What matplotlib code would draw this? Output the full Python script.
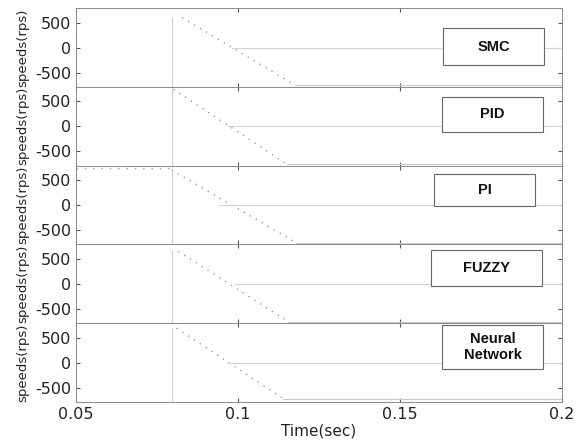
import matplotlib.pyplot as plt
from matplotlib.patches import Rectangle

# controllers shown in the five stacked panels
controllers = ["SMC", "PID", "PI", "FUZZY", "Neural\nNetwork"]

# speed ramp: start (t, rps) -> end (t, rps)
ramp_start_t = [0.0827, 0.0800, 0.0795, 0.0815, 0.0810]
ramp_start_v = [600, 740, 700, 650, 690]
ramp_end_t = [0.1176, 0.1150, 0.1180, 0.1155, 0.1140]
ramp_end_v = [-750, -750, -750, -750, -720]

# where the faint reference line at 0 rps starts
zero_start_t = [0.098, 0.097, 0.094, 0.099, 0.0965]

# step instant (vertical line) and PI pre-step speed
step_t = 0.0796
pi_pre_t = [0.05, 0.0795]
pi_pre_v = [750, 750]

x_ticks = [0.05, 0.1, 0.15, 0.2]
y_ticks = [-500, 0, 500]

# legend boxes in axes fraction: x0, x1, y0, y1
box_x0 = [0.755, 0.753, 0.737, 0.730, 0.753]
box_x1 = [0.963, 0.961, 0.944, 0.959, 0.961]
box_y0 = [0.27, 0.43, 0.48, 0.47, 0.42]
box_y1 = [0.75, 0.87, 0.89, 0.93, 0.97]

plt.rcParams['font.family'] = ['DejaVu Sans']
plt.rcParams['axes.unicode_minus'] = False

fig, axes = plt.subplots(5, 1, figsize=(5.86, 4.44), dpi=100, sharex=True)
fig.subplots_adjust(left=0.130, right=0.959, top=0.982, bottom=0.095, hspace=0)

line_col = '#9a9a9a'
for i, ax in enumerate(axes):
    # vertical step line
    ax.plot([step_t, step_t], [-780, ramp_start_v[i]], color='#d0d0d0', lw=0.8)
    # ramp (dotted)
    ax.plot([ramp_start_t[i], ramp_end_t[i]], [ramp_start_v[i], ramp_end_v[i]],
            color=line_col, lw=1.0, ls=(0, (1, 4)))
    # settled line at the bottom
    ax.plot([ramp_end_t[i], 0.2], [ramp_end_v[i], ramp_end_v[i]], color='#c8c8c8', lw=0.8)
    # reference at 0
    ax.plot([zero_start_t[i], 0.2], [0, 0], color='#d4d4d4', lw=0.8)
    if controllers[i] == "PI":
        ax.plot(pi_pre_t, pi_pre_v, color=line_col, lw=1.0, ls=(0, (1, 5)))

    ax.set_xlim(0.05, 0.2)
    ax.set_ylim(-780, 790)
    ax.set_yticks(y_ticks)
    ax.set_xticks(x_ticks)
    ax.tick_params(direction='in', length=3, width=0.8, colors='#555555',
                   labelcolor='#222222', labelsize=11.5, top=True, right=True)
    for s in ax.spines.values():
        s.set_color('#8a8a8a')
        s.set_linewidth(0.7)
    ax.set_ylabel("speeds(rps)", fontsize=9.5, color='#222222', labelpad=4)

    # legend box
    ax.add_patch(Rectangle((box_x0[i], box_y0[i]), box_x1[i] - box_x0[i], box_y1[i] - box_y0[i],
                           transform=ax.transAxes, fill=True, facecolor='white',
                           edgecolor='#666666', lw=0.8, zorder=5))
    ax.text((box_x0[i] + box_x1[i]) / 2, (box_y0[i] + box_y1[i]) / 2, controllers[i],
            transform=ax.transAxes, ha='center', va='center', fontsize=10.5,
            fontweight='bold', family='Liberation Sans', color='#111111',
            linespacing=1.2, zorder=6)

axes[-1].set_xticklabels(["0.05", "0.1", "0.15", "0.2"])
axes[-1].set_xlabel("Time(sec)", fontsize=11, color='#222222', labelpad=1)

fig.savefig("out.png", dpi=100)
